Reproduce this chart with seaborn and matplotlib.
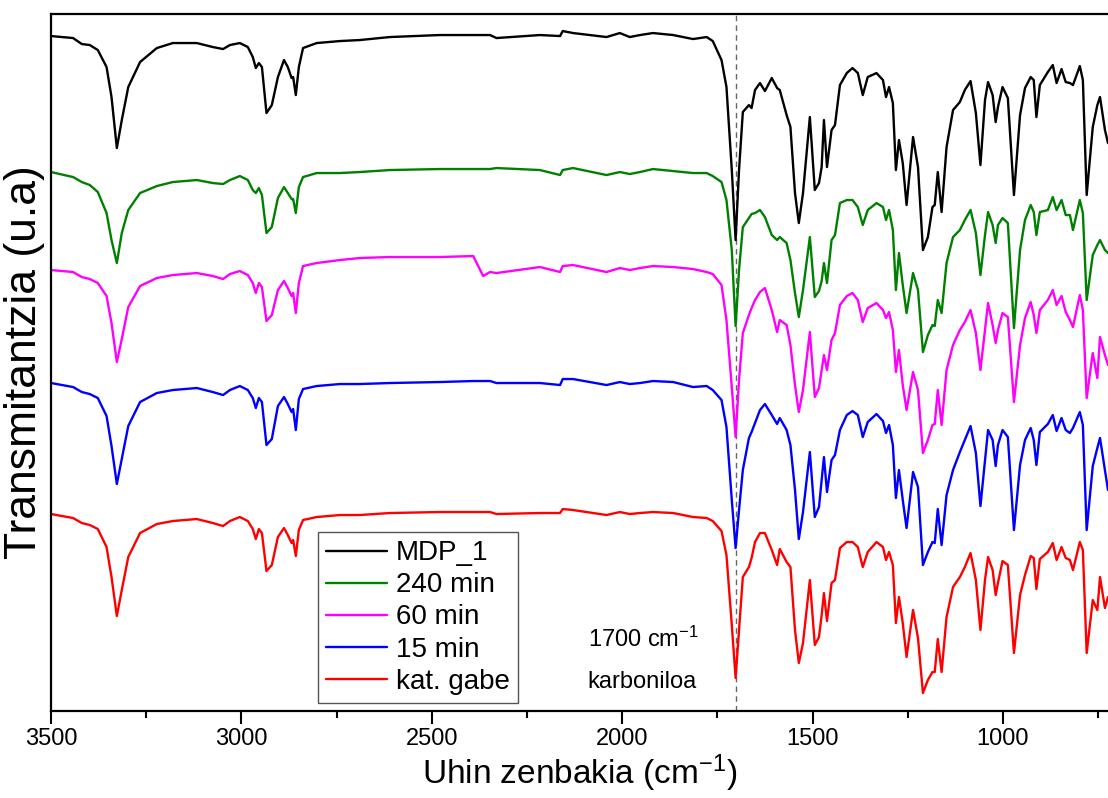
import numpy as np
import pandas as pd
import matplotlib.pyplot as plt
from matplotlib.ticker import MultipleLocator
import seaborn as sns

sns.set_theme(style="ticks", rc={"text.color": "black", "axes.labelcolor": "black",
                                 "xtick.color": "black", "axes.edgecolor": "black"})
plt.rcParams['font.family'] = ['Liberation Sans', 'DejaVu Sans']
plt.rcParams['mathtext.fontset'] = 'custom'
plt.rcParams['mathtext.rm'] = 'Liberation Sans'
plt.rcParams['mathtext.it'] = 'Liberation Sans:italic'

# wavenumbers (cm-1)
wavenumber = [3500, 3442, 3419, 3398, 3377, 3354, 3341, 3327, 3314, 3297,
              3266, 3222, 3180, 3117, 3075, 3048, 3030, 3004, 2983, 2970,
              2962, 2954, 2946, 2934, 2920, 2904, 2888, 2878, 2868, 2864,
              2857, 2849, 2838, 2802, 2741, 2689,
              2610, 2479, 2391, 2365, 2347, 2330, 2216, 2163, 2156, 2129,
              2041, 2006, 1980, 1953, 1919, 1866, 1814, 1778,
              1762, 1739, 1726, 1712, 1702, 1693, 1683, 1667, 1660, 1651,
              1638, 1625, 1607, 1593, 1586, 1568, 1558, 1546, 1536, 1525,
              1507, 1494, 1483, 1476, 1470, 1462, 1450, 1441, 1428, 1410,
              1395, 1381, 1368, 1355, 1332, 1315, 1307, 1299, 1289, 1281,
              1273, 1263, 1253, 1236, 1223, 1210, 1197, 1185, 1179, 1171,
              1161, 1148, 1131, 1113, 1100, 1085, 1071, 1059, 1047, 1039,
              1027, 1019, 1013, 1001, 987, 971, 955, 942, 927, 919,
              912, 903, 882, 869, 859, 846, 835, 824, 816, 798,
              790, 780, 764, 752, 745, 732, 724]

# transmittance (u.a), already stacked with offsets
mdp_1 = [675, 673, 667, 666, 661, 644, 614, 563, 591, 624,
         649, 663, 668, 668, 664, 662, 666, 668, 664, 654,
         643, 648, 644, 598, 606, 634, 651, 644, 633, 634,
         616, 644, 663, 668, 670, 671,
         674, 676, 676, 676, 676, 673, 676, 675, 680, 678,
         674, 678, 674, 676, 678, 676, 672, 674,
         670, 651, 624, 541, 471, 541, 599, 606, 603, 621,
         628, 620, 633, 623, 621, 596, 584, 518, 488, 518,
         594, 521, 528, 544, 591, 544, 581, 586, 626, 638,
         643, 638, 616, 634, 638, 631, 614, 624, 608, 541,
         571, 548, 506, 574, 544, 461, 474, 504, 506, 539,
         499, 564, 601, 609, 621, 630, 598, 546, 611, 629,
         616, 589, 604, 624, 613, 516, 596, 623, 634, 631,
         594, 626, 639, 646, 628, 642, 629, 628, 626, 645,
         631, 516, 584, 606, 614, 581, 568]

min_240 = [539, 534, 529, 526, 519, 498, 471, 448, 478, 501,
           518, 525, 529, 531, 528, 527, 531, 535, 531, 521,
           518, 523, 516, 478, 484, 513, 524, 518, 512, 512,
           498, 524, 534, 538, 538, 539,
           541, 542, 542, 542, 542, 543, 541, 536, 541, 543,
           536, 539, 537, 539, 542, 540, 538, 538,
           535, 529, 511, 461, 385, 441, 484, 493, 497, 498,
           501, 494, 476, 471, 474, 468, 451, 418, 394, 421,
           474, 414, 420, 430, 448, 428, 471, 476, 508, 511,
           511, 504, 486, 501, 508, 504, 491, 501, 481, 421,
           458, 426, 398, 438, 421, 359, 376, 386, 385, 411,
           398, 448, 474, 481, 491, 501, 478, 436, 476, 499,
           486, 468, 486, 493, 488, 383, 461, 491, 506, 499,
           476, 499, 501, 514, 501, 511, 496, 496, 481, 511,
           498, 411, 456, 466, 471, 461, 458]

min_60 = [441, 439, 434, 432, 428, 415, 388, 349, 372, 404,
          425, 433, 436, 438, 435, 432, 437, 440, 436, 428,
          418, 428, 424, 390, 396, 421, 430, 423, 415, 418,
          398, 428, 445, 448, 451, 453,
          454, 454, 455, 435, 439, 438, 444, 439, 445, 446,
          439, 443, 441, 443, 445, 444, 442, 439,
          437, 426, 391, 324, 274, 331, 378, 396, 403, 411,
          419, 423, 401, 379, 391, 386, 366, 326, 299, 321,
          379, 314, 323, 341, 356, 341, 371, 378, 406, 415,
          418, 411, 389, 403, 408, 401, 393, 399, 381, 339,
          361, 326, 301, 339, 321, 258, 271, 286, 287, 321,
          286, 341, 366, 381, 389, 401, 378, 341, 381, 408,
          386, 368, 381, 398, 394, 309, 366, 393, 409, 396,
          378, 401, 411, 421, 406, 415, 399, 391, 384, 416,
          401, 313, 358, 333, 374, 356, 346]

min_15 = [328, 324, 319, 317, 313, 295, 265, 227, 252, 285,
          309, 318, 321, 323, 319, 316, 321, 325, 321, 313,
          303, 313, 309, 266, 272, 305, 314, 307, 299, 302,
          281, 312, 322, 325, 327, 327,
          328, 329, 330, 330, 330, 328, 328, 326, 332, 332,
          326, 329, 327, 328, 330, 329, 324, 325,
          321, 311, 284, 211, 163, 201, 241, 273, 279, 288,
          301, 307, 296, 287, 293, 281, 266, 221, 172, 199,
          259, 194, 204, 231, 254, 219, 251, 256, 281, 296,
          300, 296, 274, 289, 297, 290, 278, 286, 266, 213,
          241, 211, 183, 239, 224, 146, 159, 169, 168, 202,
          166, 216, 241, 259, 271, 285, 258, 205, 251, 281,
          271, 245, 266, 281, 274, 181, 246, 271, 283, 271,
          246, 279, 287, 296, 280, 293, 281, 278, 283, 299,
          286, 181, 245, 263, 273, 241, 221]

kat_gabe = [197, 193, 188, 186, 182, 164, 134, 95, 121, 154,
            178, 187, 190, 192, 188, 185, 190, 194, 190, 182,
            172, 182, 178, 140, 146, 174, 183, 176, 168, 171,
            155, 181, 191, 194, 196, 196,
            198, 199, 199, 199, 199, 197, 198, 198, 202, 201,
            196, 199, 197, 198, 199, 198, 194, 193,
            190, 180, 156, 86, 33, 81, 134, 144, 153, 169,
            178, 178, 161, 146, 162, 149, 144, 81, 48, 68,
            131, 66, 74, 96, 118, 90, 128, 131, 163, 169,
            169, 164, 144, 159, 169, 164, 151, 159, 146, 88,
            114, 88, 54, 101, 73, 18, 31, 39, 39, 72,
            39, 94, 124, 134, 144, 158, 131, 81, 131, 154,
            141, 116, 128, 150, 146, 58, 116, 136, 155, 153,
            122, 152, 159, 168, 151, 164, 153, 151, 141, 169,
            161, 58, 111, 101, 134, 103, 114]

labels = ["MDP_1", "240 min", "60 min", "15 min", "kat. gabe"]
colors = ["#000000", "#008000", "#ff00ff", "#0000ff", "#ff0000"]
series = [mdp_1, min_240, min_60, min_15, kat_gabe]

df = pd.DataFrame({
    "wn": wavenumber * len(series),
    "T": np.concatenate(series),
    "sample": np.repeat(labels, len(wavenumber)),
})

fig = plt.figure(figsize=(11.08, 7.98), dpi=100)
ax = fig.add_axes([0.046, 0.109, 0.954, 0.8734])

sns.lineplot(data=df, x="wn", y="T", hue="sample", hue_order=labels,
             palette=colors, estimator=None, sort=False, linewidth=1.7, ax=ax)

# carbonyl band marker
ax.axvline(1700, color="#666666", ls=(0, (4, 3)), lw=1.0, zorder=1)

ax.set_xlim(3500, 724)
ax.set_ylim(0, 697)
ax.set_xticks([3500, 3000, 2500, 2000, 1500, 1000])
ax.xaxis.set_minor_locator(MultipleLocator(250))
ax.set_yticks([])
ax.tick_params(axis="x", which="major", direction="out", length=9, width=1.5,
               labelsize=17, color="black", labelcolor="black", pad=3)
ax.tick_params(axis="x", which="minor", direction="out", length=5, width=1.5,
               color="black")
for side in ["left", "top", "bottom"]:
    ax.spines[side].set_linewidth(1.6)
    ax.spines[side].set_color("black")
ax.spines["right"].set_visible(False)

ax.set_xlabel("Uhin zenbakia (cm$^{-1}$)", fontsize=24, labelpad=2, color="black")
ax.set_ylabel("Transmitantzia (u.a)", fontsize=32, labelpad=4, color="black")

ax.text(2090, 64, "1700 cm$^{-1}$", fontsize=17, va="baseline", ha="left", color="black")
ax.text(2090, 23, "karboniloa", fontsize=17, va="baseline", ha="left", color="black")

handles, _ = ax.get_legend_handles_labels()
leg = ax.legend(handles, labels, loc="lower left", bbox_to_anchor=(0.2526, 0.0115),
                borderaxespad=0, frameon=True, fancybox=False, framealpha=1,
                edgecolor="#555555", fontsize=20, handlelength=2.2,
                handletextpad=0.3, labelspacing=0.22, borderpad=0.3)
leg.get_frame().set_linewidth(1.0)
for t in leg.get_texts():
    t.set_color("black")

fig.savefig("out.png", dpi=100)
